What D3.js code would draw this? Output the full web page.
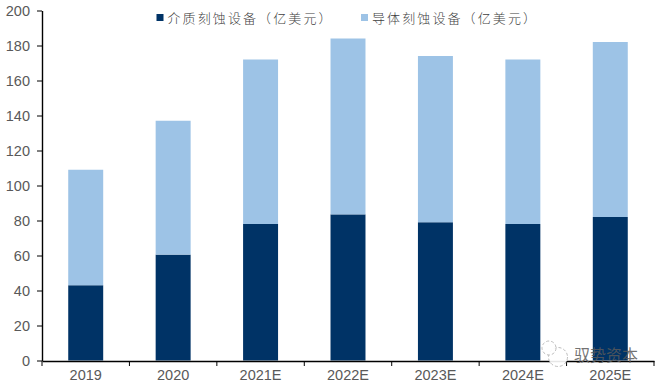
<!doctype html>
<html lang="zh">
<head>
<meta charset="utf-8">
<title>刻蚀设备</title>
<script src="https://d3js.org/d3.v7.min.js"></script>
<style>
    html, body { margin: 0; padding: 0; background: #fff; }
    svg { display: block; }
    text { font-family: "Liberation Sans", Arial, sans-serif; fill: #595959; }
</style>
</head>
<body>
<script>
    // Values
    const years = ["2019", "2020", "2021E", "2022E", "2023E", "2024E", "2025E"];
    const dielectric = [43, 60.5, 78, 83.5, 79, 78, 82];
    const conductor = [66, 76.5, 94, 100.5, 95, 94, 100];
    const yTicks = [0, 20, 40, 60, 80, 100, 120, 140, 160, 180, 200];
    const seriesNames = ["介质刻蚀设备（亿美元）", "导体刻蚀设备（亿美元）"];
    const seriesColors = ["#003366", "#9DC3E6"];

    const width = 658;
    const height = 385;

    const svg = d3.select("body")
        .append("svg")
        .attr("width", width)
        .attr("height", height);

    const x = d3.scaleBand()
        .domain(years)
        .range([42, 654])
        .paddingInner(0.6)
        .paddingOuter(0.3);

    // tick marks sit between the categories, so a second scale on the edges
    const xEdges = d3.scaleLinear()
        .domain([0, years.length])
        .range([42, 654]);

    const y = d3.scaleLinear()
        .domain([0, 200])
        .range([360.5, 10.5]);

    // Stacked bars
    const rows = years.map((year, i) => ({ year: year, a: dielectric[i], b: conductor[i] }));
    const stacked = d3.stack().keys(["a", "b"])(rows);

    svg.selectAll("g.series")
        .data(stacked)
        .enter()
        .append("g")
        .attr("class", "series")
        .attr("fill", (d, i) => seriesColors[i])
        .selectAll("rect")
        .data(d => d)
        .enter()
        .append("rect")
        .attr("x", d => x(d.data.year))
        .attr("width", x.bandwidth())
        .attr("y", d => y(d[1]))
        .attr("height", d => y(d[0]) - y(d[1]));

    // Y axis
    const yAxis = d3.axisLeft(y)
        .tickValues(yTicks)
        .tickSize(5)
        .tickSizeOuter(0)
        .tickPadding(7);
    const gy = svg.append("g")
        .attr("transform", "translate(42, 0)")
        .call(yAxis);
    gy.selectAll("text").style("font-size", "14.5px");

    // X axis, labels from the band scale and ticks at the edges
    const xAxis = d3.axisBottom(x)
        .tickSize(0)
        .tickPadding(9);
    const gx = svg.append("g")
        .attr("transform", "translate(0, 361)")
        .call(xAxis);
    gx.selectAll("text").style("font-size", "14.5px").attr("dy", "0.71em");

    gx.selectAll("line.edge")
        .data(d3.range(years.length + 1))
        .enter()
        .append("line")
        .attr("class", "edge")
        .attr("x1", d => xEdges(d))
        .attr("x2", d => xEdges(d))
        .attr("y1", 0)
        .attr("y2", 5)
        .attr("stroke", "#000");

    svg.selectAll(".domain")
        .attr("stroke", "#000")
        .attr("stroke-width", 1.4);
    svg.selectAll(".tick line").attr("stroke", "#000");

    // Legend
    const legendX = [156.5, 361];
    const legend = svg.selectAll("g.legend")
        .data(seriesNames)
        .enter()
        .append("g")
        .attr("class", "legend")
        .attr("transform", (d, i) => "translate(" + legendX[i] + ", 18)");
    legend.append("rect")
        .attr("y", -4)
        .attr("width", 7)
        .attr("height", 7)
        .attr("fill", (d, i) => seriesColors[i]);
    legend.append("text")
        .attr("x", 11)
        .attr("y", 5)
        .style("font-family", '"Noto Sans CJK SC", sans-serif')
        .style("font-size", "13px")
        .style("letter-spacing", "2.1px")
        .style("font-weight", 300)
        .style("fill", "#404040")
        .text(d => d);

    // Watermark
    const mark = svg.append("g")
        .attr("transform", "translate(549, 352)");
    mark.append("circle").attr("cx", 9).attr("cy", 5).attr("r", 9.5)
        .attr("fill", "#fff").attr("fill-opacity", 0.9)
        .attr("stroke", "#bdbdbd").attr("stroke-dasharray", "3 2");
    mark.append("circle").attr("cx", 0).attr("cy", -4).attr("r", 7)
        .attr("fill", "#fff").attr("fill-opacity", 0.9)
        .attr("stroke", "#bdbdbd").attr("stroke-dasharray", "3 2");
    svg.append("text")
        .attr("x", 574)
        .attr("y", 361)
        .style("font-family", '"Noto Sans CJK SC", sans-serif')
        .style("font-size", "16px")
        .style("fill", "#5a5a5a")
        .style("fill-opacity", 0.85)
        .text("驭势资本");
</script>
</body>
</html>
